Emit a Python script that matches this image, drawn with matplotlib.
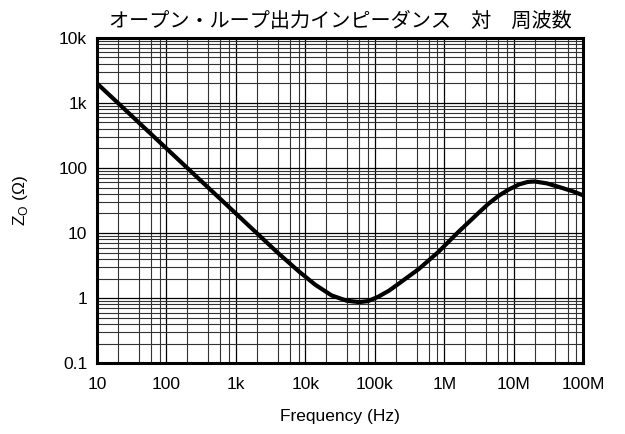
import matplotlib
matplotlib.use("Agg")
import matplotlib.pyplot as plt
from matplotlib.ticker import LogLocator, FixedLocator, NullFormatter

plt.rcParams['font.family'] = ['Liberation Sans', 'Noto Sans CJK JP', 'DejaVu Sans']
plt.rcParams['mathtext.fontset'] = 'custom'
plt.rcParams['mathtext.rm'] = 'Liberation Sans'

# open-loop output impedance vs frequency
freq = [10, 100, 1e3, 2e3, 4e3, 8e3, 1.4e4, 2.4e4, 4e4, 6e4, 8e4,
        1.12e5, 1.6e5, 2.2e5, 4.3e5, 8.2e5, 1.6e6, 3e6, 4.3e6, 6e6,
        8.3e6, 1.2e7, 1.6e7, 2e7, 3e7, 4.5e7, 7e7, 1e8]
z_out = [2000, 200, 20, 10, 5.0, 2.6, 1.6, 1.1, 0.91, 0.87, 0.9,
         1.05, 1.3, 1.66, 2.8, 5.1, 10.4, 19.6, 28, 37,
         46, 56, 61, 62, 58, 51, 44, 38]

x_ticks = [10, 100, 1e3, 1e4, 1e5, 1e6, 1e7, 1e8]
x_labels = ['10', '100', '1k', '10k', '100k', '1M', '10M', '100M']
y_ticks = [0.1, 1, 10, 100, 1e3, 1e4]
y_labels = ['0.1', '1', '10', '100', '1k', '10k']

fig = plt.figure(figsize=(6.25, 4.34), dpi=100)
ax = fig.add_axes([0.155, 0.163, 0.778, 0.750])

ax.set_xscale('log')
ax.set_yscale('log')
ax.set_xlim(10, 1e8)
ax.set_ylim(0.1, 1e4)

ax.xaxis.set_major_locator(FixedLocator(x_ticks))
ax.yaxis.set_major_locator(FixedLocator(y_ticks))
ax.set_xticklabels(x_labels)
ax.set_yticklabels(y_labels)
# frequency grid: 2, 4, 6, 8 per decade; impedance grid: every 2..9
ax.xaxis.set_minor_locator(LogLocator(base=10, subs=(2, 4, 6, 8), numticks=20))
ax.yaxis.set_minor_locator(LogLocator(base=10, subs=range(2, 10), numticks=20))
ax.xaxis.set_minor_formatter(NullFormatter())
ax.yaxis.set_minor_formatter(NullFormatter())
ax.tick_params(which='both', length=0, labelsize=12.5, pad=7)
ax.tick_params(axis='x', pad=10)

ax.grid(True, which='major', color='black', linewidth=0.9)
ax.grid(True, which='minor', color='#333333', linewidth=0.8)

for s in ax.spines.values():
    s.set_linewidth(2.2)

ax.plot(freq, z_out, color='black', linewidth=3, solid_joinstyle='round', zorder=3)

ax.set_xlabel('Frequency (Hz)', fontsize=12.5, labelpad=12)
ax.set_ylabel(r'Z$_\mathregular{O}$ (Ω)', fontsize=12.5, labelpad=20)
ax.set_title('オープン・ループ出力インピーダンス　対　周波数', fontsize=14.5,
             family=['Noto Sans CJK JP', 'DejaVu Sans'], pad=8)

fig.savefig('out.png', dpi=100)
